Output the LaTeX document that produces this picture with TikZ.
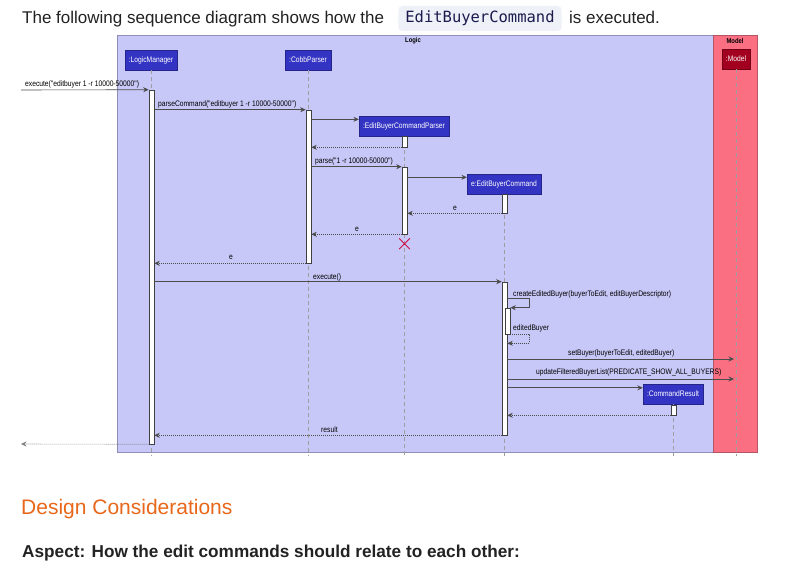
\documentclass[tikz,border=0pt]{standalone}
\usepackage{fontspec}
\setmainfont{Liberation Sans}
\setmonofont{DejaVu Sans Mono}
\newfontfamily\umlfam[FakeStretch=0.84]{Liberation Sans}
\usepackage{tikz}
\usetikzlibrary{positioning,arrows.meta,calc,shapes.misc}
\definecolor{logicbg}{HTML}{C8C8F8}
\definecolor{logicedge}{HTML}{8E8EB2}
\definecolor{modelbg}{HTML}{FA7082}
\definecolor{modeledge}{HTML}{B45464}
\definecolor{partblue}{HTML}{3434C4}
\definecolor{partred}{HTML}{A3001F}
\definecolor{killred}{HTML}{CC1144}
\definecolor{headorange}{HTML}{E8671A}
\definecolor{codebg}{HTML}{EEF1F7}
\definecolor{inktext}{HTML}{222222}
\tikzset{
  umlfont/.style={font=\umlfam\fontsize{8}{9}\selectfont},
  part/.style   ={rectangle, umlfont, fill=partblue, draw=partblue!70!black,
                  text=white, inner xsep=4pt, minimum height=20, line width=0.4pt},
  life/.style   ={draw=gray!75, dash pattern=on 4pt off 3pt, line width=0.5pt},
  act/.style    ={rectangle, draw=gray!50!black, fill=white, minimum width=5,
                  inner sep=0pt, line width=0.6pt},
  % synchronous call and its dotted reply
  msg/.style    ={draw=black!70, line width=0.6pt,
                  -{Stealth[length=5.5pt,width=5pt,inset=1.8pt]}},
  ret/.style    ={msg, dash pattern=on 1pt off 1pt},
  lbl/.style    ={umlfont, inner sep=0pt, anchor=west},
  clbl/.style   ={umlfont, inner sep=0pt},
}
% activation bars: name/x/top/bottom
\def\actlist{lmA/151.5/90/444, cpA/308.5/110/263, ebcpA/404.5/136/147,
             ebcpB/404.5/167/234, ebcA/504.5/194/213, ebcB/504.5/282/435,
             ebcC/507.5/308/334, crA/673.5/405/415}

\begin{document}
\begin{tikzpicture}[x=1pt,y=-1pt]
\fill[white] (0,0) rectangle (788,575);
\useasboundingbox (0,0) rectangle (788,575);

% page text above
\node[anchor=base west, text=inktext, font=\fontsize{17}{20}\selectfont, inner sep=0pt]
   (intro) at (22,24) {The following sequence diagram shows how the};
\node[fill=codebg, rounded corners=4pt, text=inktext!80!blue,
      font=\ttfamily\fontsize{15.5}{18}\selectfont, inner xsep=7pt, minimum height=25]
   (code) at (480,18.5) {EditBuyerCommand};
\node[anchor=base west, text=inktext, font=\fontsize{17}{20}\selectfont, inner sep=0pt]
   (introEnd) at (569,24) {is executed.};

% boxes
\draw[fill=logicbg, draw=logicedge] (117,35) rectangle (713,452);
\draw[fill=modelbg, draw=modeledge] (713,35) rectangle (757,452);
\node[umlfont, font=\umlfam\bfseries\fontsize{7}{8}\selectfont] (logicLbl) at (413,41) {Logic};
\node[umlfont, font=\umlfam\bfseries\fontsize{7}{8}\selectfont] (modelLbl) at (735,41) {Model};

% participants
\node[part] (lm)   at (151,60)  {:LogicManager};
\node[part] (cp)   at (308,60)  {:CobbParser};
\node[part, fill=partred, draw=partred!70!black] (md) at (736,59) {:Model};
\node[part] (ebcp) at (404,126) {:EditBuyerCommandParser};
\node[part] (ebc)  at (504,184) {e:EditBuyerCommand};
\node[part] (cr)   at (673,394) {:CommandResult};

\coordinate (floor) at (0,456);
\foreach \p in {lm,cp,md,ebcp,ebc,cr}
  {\draw[life] (\p.south) -- (\p.south |- floor);}

\foreach \n/\x/\t/\b in \actlist
  {\node[act, minimum height={\b-\t}] (\n) at (\x,{(\t+\b)/2}) {};}

% entry and exit of the user call
\coordinate (caller) at (21,90);
\coordinate (callerBack) at (21,444);
\coordinate (ebcpIn) at ([yshift=-3.5pt]ebcp.north west);
\coordinate (ebcIn)  at ([yshift=-3.5pt]ebc.north west);
\coordinate (crIn)   at ([yshift=-4pt]cr.north west);
\coordinate (setY)   at (734,359);
\coordinate (updY)   at (734,379);

\draw[msg] (caller) -- (lmA.north west);
\node[lbl] (m1) at (25,84) {execute("editbuyer 1 -r 10000-50000")};

\draw[msg] (lmA.east |- cpA.north) -- (cpA.north west);
\node[lbl] (m2) at (158,104) {parseCommand("editbuyer 1 -r 10000-50000")};

\draw[msg] (cpA.east |- ebcpIn) -- (ebcpIn);
\draw[ret] (ebcpA.south west) -- (cpA.east |- ebcpA.south);

\draw[msg] (cpA.east |- ebcpB.north) -- (ebcpB.north west);
\node[lbl] (m5) at (315,161) {parse("1 -r 10000-50000")};

\draw[msg] (ebcpB.east |- ebcIn) -- (ebcIn);
\draw[ret] (ebcA.south west) -- (ebcpB.east |- ebcA.south);
\node[clbl] (m7) at (455,208) {e};
\draw[ret] (ebcpB.south west) -- (cpA.east |- ebcpB.south);
\node[clbl] (m8) at (357,229) {e};
\node[cross out, draw=killred, minimum size=10pt, inner sep=0pt, line width=0.8pt]
   (kill) at ([yshift=-9.5pt]ebcpB.south) {};

\draw[ret] (cpA.south west) -- (lmA.east |- cpA.south);
\node[clbl] (m9) at (231,257) {e};

\draw[msg] (lmA.east |- ebcB.north) -- (ebcB.north west);
\node[lbl] (m10) at (313,277) {execute()};

\draw[msg] (ebcB.east |- ebcC.north) ++(0,-9) -- ++(22,0) |- (ebcC.north east);
\node[lbl] (m11) at (513,294) {createEditedBuyer(buyerToEdit, editBuyerDescriptor)};
\draw[ret] (ebcC.south east) -- ++(19,0) -- ++(0,9) -- ++(-22,0);
\node[lbl] (m12) at (513,328) {editedBuyer};

\draw[msg] (ebcB.east |- setY) -- (setY);
\node[lbl] (m13) at (568,353) {setBuyer(buyerToEdit, editedBuyer)};
\draw[msg] (ebcB.east |- updY) -- (updY);
\node[lbl] (m14) at (536,372) {updateFilteredBuyerList(PREDICATE\_SHOW\_ALL\_BUYERS)};

\draw[msg, line width=1pt] (ebcB.east |- crIn) -- (crIn);
\draw[ret] (crA.south west) -- (ebcB.east |- crA.south);

\draw[ret] (ebcB.south west) -- (lmA.east |- ebcB.south);
\node[lbl] (m17) at (321,430) {result};
\draw[ret, draw=gray] (lmA.south west) -- (callerBack);

% page text below
\node[anchor=west, text=headorange, font=\fontsize{21}{24}\selectfont, inner sep=0pt]
   (design) at (21,509) {Design Considerations};
\node[anchor=west, text=inktext, font=\bfseries\fontsize{17.2}{20}\selectfont, inner sep=0pt]
   (aspect) at (22,553) {Aspect: How the edit commands should relate to each other:};
\end{tikzpicture}
\end{document}
